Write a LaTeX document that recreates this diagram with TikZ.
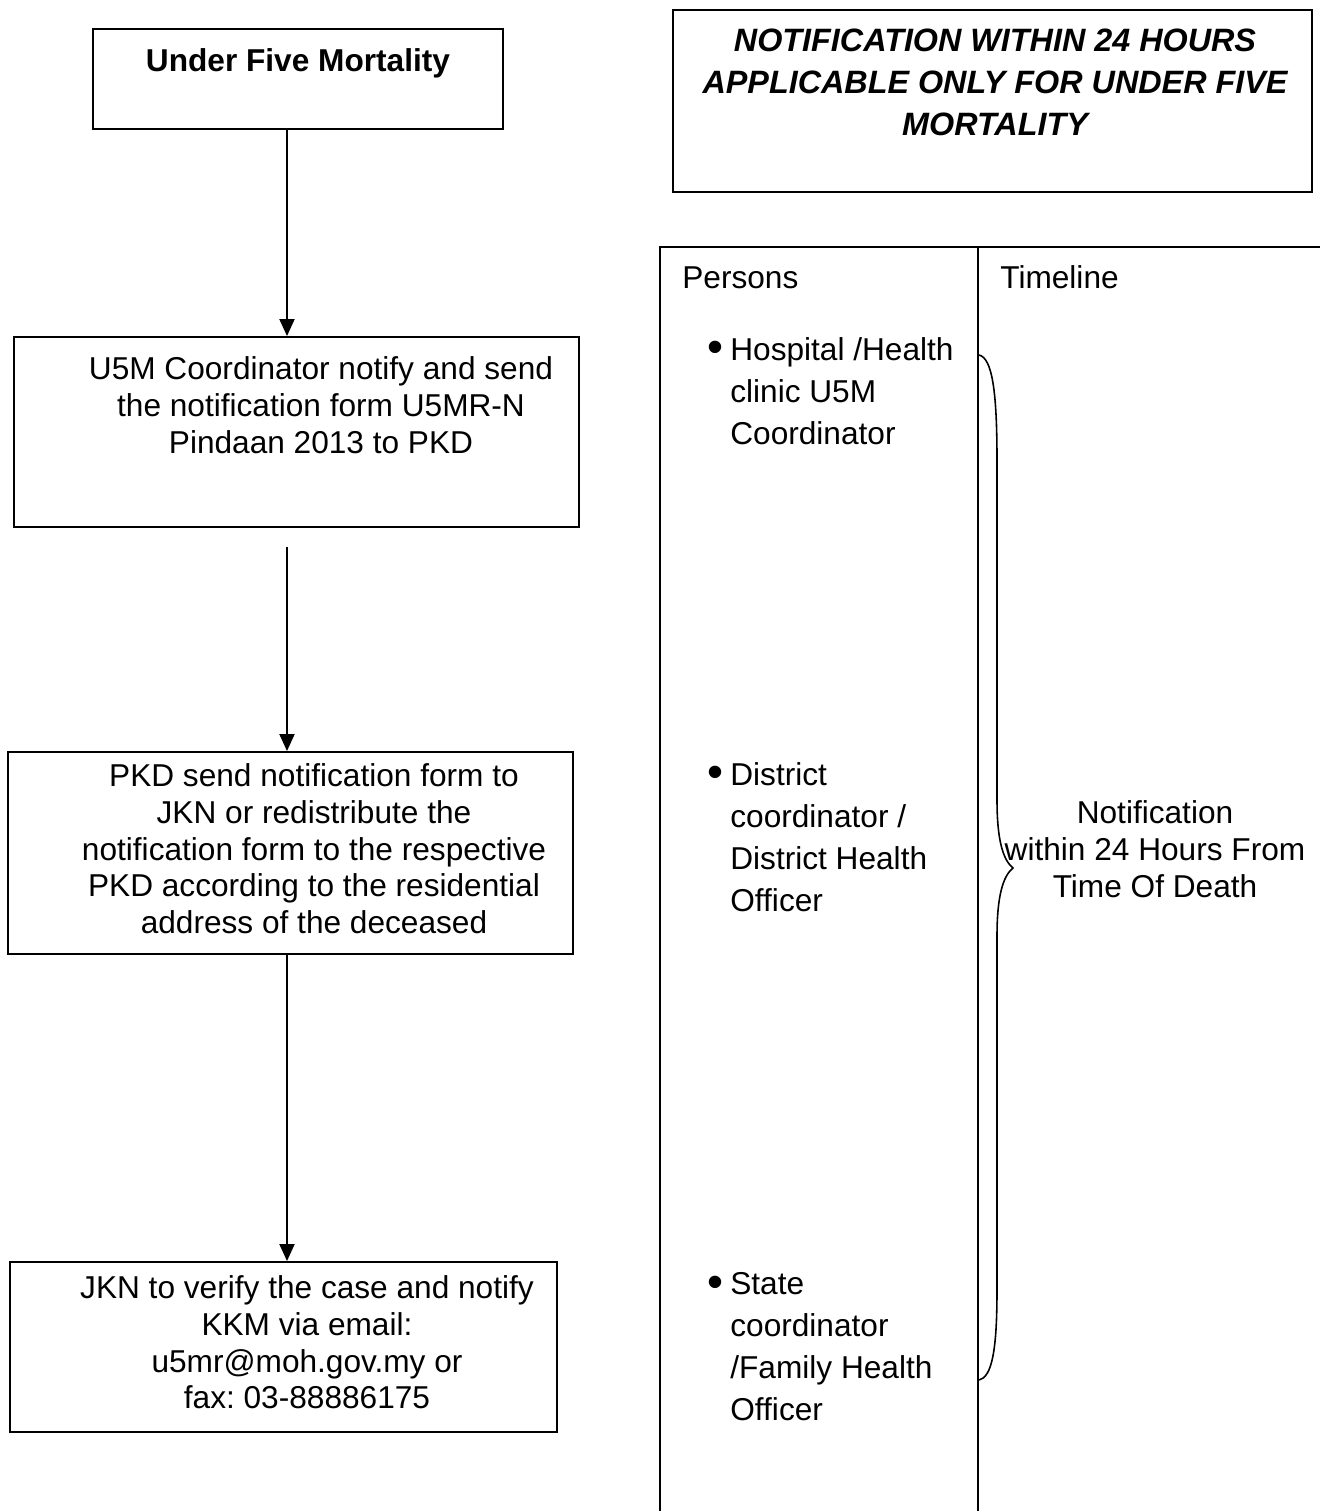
\documentclass[tikz,border=0pt]{standalone}
\usepackage{fontspec}
\setmainfont{Liberation Sans}
\usetikzlibrary{arrows.meta}
\frenchspacing
\begin{document}
\begin{tikzpicture}[x=0.02cm,y=-0.02cm,
  box/.style={draw,line width=1.1pt,inner sep=0pt},
  boxtxt/.style={inner sep=0pt,align=center,font=\fontsize{18}{21}\selectfont},
  coltxt/.style={inner sep=0pt,align=left,font=\fontsize{18}{23.9}\selectfont},
  bul/.style={inner sep=0pt,font=\fontsize{26}{26}\selectfont},
  arr/.style={line width=1.1pt,-{Triangle[length=0.34cm,width=0.3cm]}},
  rule/.style={line width=1.1pt}]
\useasboundingbox (0,0) rectangle (1320,1511);
% flow boxes
\node[box,minimum width=8.2cm,minimum height=2.0cm] (b1) at (298,79) {};
\node[box,minimum width=12.78cm,minimum height=3.64cm] (nb) at (992.5,101) {};
\node[box,minimum width=11.3cm,minimum height=3.8cm] (b2) at (296.5,432) {};
\node[box,minimum width=11.3cm,minimum height=4.04cm] (b3) at (290.5,853) {};
\node[box,minimum width=10.94cm,minimum height=3.4cm] (b4) at (283.5,1347) {};
% texts
\node[boxtxt,anchor=base,font=\fontsize{18}{21}\selectfont\bfseries] (t1) at (298,71) {Under Five Mortality};
\node[boxtxt,anchor=north,font=\fontsize{18.4}{23.9}\selectfont\bfseries\itshape] (tn) at (995,28.5)
  {NOTIFICATION WITHIN 24 HOURS\\APPLICABLE ONLY FOR UNDER FIVE\\MORTALITY};
\node[boxtxt,anchor=north] (t2) at (321,356)
  {U5M Coordinator notify and send\\the notification form U5MR-N\\Pindaan 2013 to PKD};
\node[boxtxt,anchor=north] (t3) at (314,763)
  {PKD send notification form to\\JKN or redistribute the\\notification form to the respective\\PKD according to the residential\\address of the deceased};
\node[boxtxt,anchor=north] (t4) at (307,1275)
  {JKN to verify the case and notify\\KKM via email:\\u5mr@moh.gov.my or\\fax: 03-88886175};
% arrows
\coordinate (ax) at (287,0);
\coordinate (a2s) at (287,547);
\draw[arr] (b1.south -| ax) -- (b2.north -| ax);
\draw[arr] (a2s) -- (b3.north -| ax);
\draw[arr] (b3.south -| ax) -- (b4.north -| ax);
% table
\draw[rule] (660,1511) -- (660,247) -- (1320,247);
\draw[rule] (978,247) -- (978,1511);
\node[coltxt,anchor=base west] (persons) at (682,288) {Persons};
\node[coltxt,anchor=base west] (timeline) at (1000,288) {Timeline};
\node[bul,anchor=base] (bu1) at (715,362) {•};
\node[coltxt,anchor=north west] (p1) at (730,337) {Hospital /Health\\clinic U5M\\Coordinator};
\node[bul,anchor=base] (bu2) at (715,787) {•};
\node[coltxt,anchor=north west] (p2) at (730,762) {District\\coordinator /\\District Health\\Officer};
\node[bul,anchor=base] (bu3) at (715,1297) {•};
\node[coltxt,anchor=north west] (p3) at (730,1272) {State\\coordinator\\/Family Health\\Officer};
\node[boxtxt,anchor=north] (tl) at (1155,800) {Notification\\within 24 Hours From\\Time Of Death};
% brace
\draw[line width=0.9pt] (979,355) .. controls (992,358) and (997,390) .. (997,460)
  -- (997,800) .. controls (997,840) and (1003,860) .. (1013,868)
  .. controls (1003,876) and (997,896) .. (997,936)
  -- (997,1290) .. controls (997,1350) and (992,1377) .. (979,1380);
\end{tikzpicture}
\end{document}
